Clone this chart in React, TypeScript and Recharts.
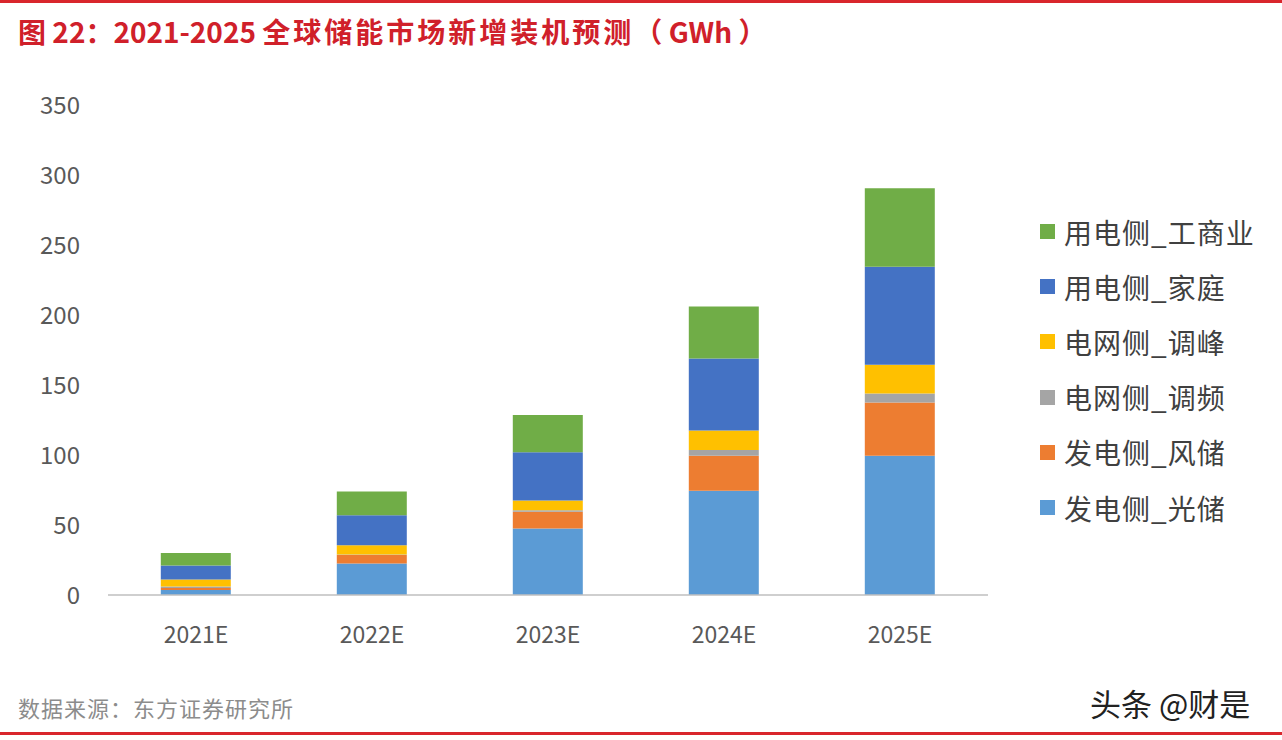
import React from "react";
import { BarChart, Bar, XAxis, YAxis } from "recharts";

const YEARS = ["2021E", "2022E", "2023E", "2024E", "2025E"];

// GWh
const SOLAR = [3.5, 22.5, 47.5, 74.5, 99.5];
const WIND = [1.5, 6, 12, 25, 38];
const FREQ = [1, 0.5, 1, 4, 6.5];
const PEAK = [5, 6.5, 7, 14, 20.5];
const HOME = [10, 21.5, 34.5, 51.5, 70];
const CI = [9, 17, 26.5, 37, 56];

const Y_TICKS = [0, 50, 100, 150, 200, 250, 300, 350];

const SERIES = [
  { key: "solar", name: "发电侧_光储", color: "#5B9BD5", values: SOLAR },
  { key: "wind", name: "发电侧_风储", color: "#ED7D31", values: WIND },
  { key: "freq", name: "电网侧_调频", color: "#A5A5A5", values: FREQ },
  { key: "peak", name: "电网侧_调峰", color: "#FFC000", values: PEAK },
  { key: "home", name: "用电侧_家庭", color: "#4472C4", values: HOME },
  { key: "ci", name: "用电侧_工商业", color: "#70AD47", values: CI },
];

const data = YEARS.map((year, i) => {
  const row: Record<string, string | number> = { year };
  SERIES.forEach((s) => (row[s.key] = s.values[i]));
  return row;
});

const FONT = "'Noto Sans CJK SC', 'Noto Sans', sans-serif";

export default function App() {
  return (
    <div
      style={{
        position: "absolute",
        left: 0,
        top: 0,
        width: 1282,
        height: 740,
        background: "#fff",
        fontFamily: FONT,
        overflow: "hidden",
      }}
    >
      <div style={{ position: "absolute", left: 0, top: 0, width: 1282, height: 3, background: "#d9262c" }} />
      <div
        style={{
          position: "absolute",
          left: 18,
          top: 11,
          fontSize: 28,
          fontWeight: 700,
          color: "#d0202a",
          whiteSpace: "nowrap",
        }}
      >
        图 22：2021-2025 <span style={{ letterSpacing: 3 }}>全球储能市场新增装机预测</span>（ GWh ）
      </div>

      <div style={{ position: "absolute", left: 0, top: 0 }}>
        <BarChart
          width={1282}
          height={740}
          data={data}
          margin={{ top: 105, right: 294, bottom: 115, left: 28 }}
          barCategoryGap="30%"
        >
          <XAxis
            dataKey="year"
            height={30}
            axisLine={{ stroke: "#bfbfbf", strokeWidth: 1.5 }}
            tickLine={false}
            tickSize={0}
            tickMargin={32}
            tick={{ fontSize: 23, fill: "#595959", fontFamily: FONT }}
          />
          <YAxis
            width={80}
            domain={[0, 350]}
            ticks={Y_TICKS}
            axisLine={false}
            tickLine={false}
            tickSize={0}
            tickMargin={28}
            tick={{ fontSize: 24, fill: "#595959", fontFamily: FONT }}
          />
          {SERIES.map((s) => (
            <Bar
              key={s.key}
              dataKey={s.key}
              name={s.name}
              stackId="a"
              fill={s.color}
              isAnimationActive={false}
            />
          ))}
        </BarChart>
      </div>

      <div style={{ position: "absolute", left: 1040, top: 204 }}>
        {[...SERIES].reverse().map((s) => (
          <div
            key={s.key}
            style={{ display: "flex", alignItems: "center", height: 55.2, whiteSpace: "nowrap" }}
          >
            <span style={{ width: 15, height: 15, background: s.color, marginRight: 9 }} />
            <span style={{ fontSize: 28, letterSpacing: 1, color: "#404040" }}>{s.name}</span>
          </div>
        ))}
      </div>

      <div style={{ position: "absolute", left: 18, top: 691, fontSize: 22, letterSpacing: 1, color: "#8c8c8c" }}>
        数据来源：东方证券研究所
      </div>
      <div style={{ position: "absolute", left: 1090, top: 680, fontSize: 31, color: "#222" }}>
        头条 @财是
      </div>
      <div style={{ position: "absolute", left: 0, top: 732, width: 1282, height: 3, background: "#d9262c" }} />
    </div>
  );
}
